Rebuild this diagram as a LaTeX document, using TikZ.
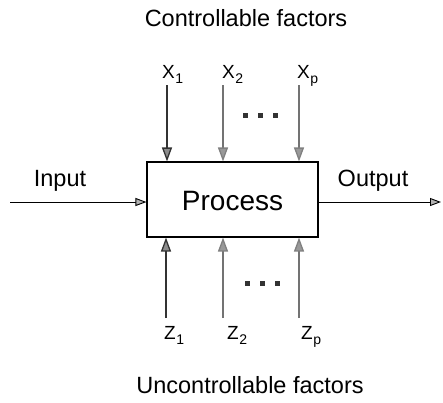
\documentclass[tikz,border=0pt]{standalone}
\usepackage{fontspec}
\setmainfont{Liberation Sans}
\usetikzlibrary{arrows.meta}
\newcommand{\mysub}[1]{\hspace{0.5pt}\raisebox{-5pt}{\fontsize{14}{16}\selectfont #1}}
\begin{document}
\begin{tikzpicture}[x=1pt,y=-1pt,
  lbl/.style={inner sep=0pt, anchor=base, font=\fontsize{23.5}{26}\selectfont},
  var/.style={inner sep=0pt, anchor=base west, font=\fontsize{19}{24}\selectfont},
  procbox/.style={draw, line width=1.1pt, minimum width=171pt, minimum height=75pt, inner sep=0pt},
  proctext/.style={inner sep=0pt, anchor=base, font=\fontsize{28}{32}\selectfont},
  darkarr/.style={draw=black!80, line width=1.3pt, -{Triangle[length=14pt,width=10pt,fill=black!45]}},
  greyarr/.style={draw=black!55, line width=1.3pt, -{Triangle[length=14pt,width=10pt,fill=black!40,color=black!50]}},
  flowarr/.style={draw=black, line width=0.9pt, -{Triangle[length=11pt,width=8pt,fill=black!30]}},
  dot/.style={fill=black!80}
]
\useasboundingbox (0,0) rectangle (443,402);

\node[procbox] (proc) at (232.5,199.5) {};
\node[proctext] (proclbl) at (232.5,210) {Process};

\node[lbl] (ctl) at (246,26) {Controllable factors};
\node[lbl] (unc) at (250,393) {Uncontrollable factors};

\node[lbl] (inlbl) at (60,186) {Input};
\node[lbl] (outlbl) at (373,186) {Output};

\node[var] (x1) at (162,78) {X\mysub{1}};
\node[var] (x2) at (222,78) {X\mysub{2}};
\node[var] (xp) at (297,78) {X\mysub{p}};

\node[var] (z1) at (164,339) {Z\mysub{1}};
\node[var] (z2) at (227,339) {Z\mysub{2}};
\node[var] (zp) at (301,339) {Z\mysub{p}};

\coordinate (t1) at (167,85);
\coordinate (t2) at (223,85);
\coordinate (tp) at (299,85);
\coordinate (b1) at (166,318);
\coordinate (b2) at (223,318);
\coordinate (bp) at (299,318);

\draw[darkarr] (t1) -- (t1 |- proc.north);
\draw[greyarr] (t2) -- (t2 |- proc.north);
\draw[greyarr] (tp) -- (tp |- proc.north);
\draw[darkarr] (b1) -- (b1 |- proc.south);
\draw[greyarr] (b2) -- (b2 |- proc.south);
\draw[greyarr] (bp) -- (bp |- proc.south);

\coordinate (inpt) at (10,202);
\coordinate (outpt) at (441,202);
\draw[flowarr] (inpt) -- (inpt -| proc.west);
\draw[flowarr] (proc.east |- outpt) -- (outpt);

\foreach \dx in {245,260,275} {
  \fill[dot] (\dx-2.5,112.5) rectangle (\dx+2.5,117.5);
}
\foreach \dx in {247,262,277} {
  \fill[dot] (\dx-2.5,280.5) rectangle (\dx+2.5,285.5);
}
\end{tikzpicture}
\end{document}
